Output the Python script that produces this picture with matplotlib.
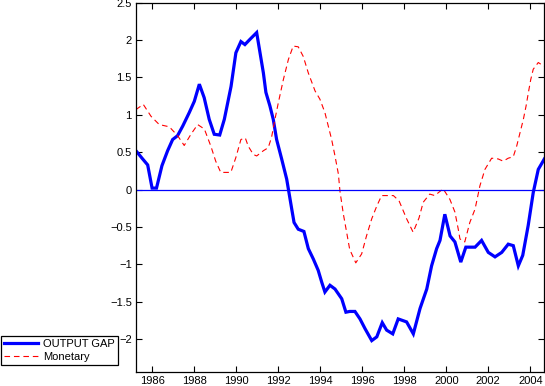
import matplotlib
matplotlib.use("Agg")
import matplotlib.pyplot as plt
from matplotlib.ticker import FuncFormatter

gap_years = [1985.22, 1985.54, 1985.78, 1985.99, 1986.2, 1986.46, 1986.73, 1986.97, 1987.2, 1987.45,
             1987.76, 1988.0, 1988.24, 1988.47, 1988.71, 1988.95, 1989.21, 1989.43, 1989.75, 1989.98,
             1990.22, 1990.41, 1990.65, 1990.97, 1991.13, 1991.29, 1991.41, 1991.6, 1991.76, 1991.92,
             1992.16, 1992.4, 1992.64, 1992.75, 1992.95, 1993.22, 1993.43, 1993.67, 1993.9, 1994.07,
             1994.22, 1994.46, 1994.7, 1995.02, 1995.22, 1995.4, 1995.65, 1995.89, 1996.13, 1996.45,
             1996.69, 1996.95, 1997.16, 1997.45, 1997.71, 1998.11, 1998.43, 1998.75, 1999.07, 1999.3,
             1999.54, 1999.7, 1999.93, 2000.18, 2000.41, 2000.69, 2000.93, 2001.37, 2001.68, 2002.0,
             2002.32, 2002.64, 2002.95, 2003.19, 2003.43, 2003.64, 2003.9, 2004.14, 2004.38, 2004.67]
gap_values = [0.52, 0.41, 0.33, 0.02, 0.02, 0.32, 0.52, 0.67, 0.72, 0.85,
              1.03, 1.18, 1.41, 1.23, 0.94, 0.74, 0.73, 0.94, 1.38, 1.83,
              1.98, 1.94, 2.01, 2.10, 1.83, 1.56, 1.30, 1.12, 0.94, 0.67,
              0.41, 0.14, -0.26, -0.44, -0.53, -0.56, -0.79, -0.93, -1.08, -1.24,
              -1.37, -1.28, -1.33, -1.46, -1.64, -1.63, -1.63, -1.73, -1.86, -2.02,
              -1.97, -1.78, -1.88, -1.93, -1.73, -1.77, -1.93, -1.59, -1.33, -1.02,
              -0.79, -0.68, -0.33, -0.62, -0.70, -0.97, -0.77, -0.77, -0.68, -0.84,
              -0.90, -0.84, -0.73, -0.75, -1.02, -0.88, -0.48, -0.04, 0.27, 0.41]

mon_years = [1985.22, 1985.57, 1985.94, 1986.33, 1986.81, 1987.21, 1987.52, 1987.84, 1988.16, 1988.48,
             1988.79, 1989.02, 1989.26, 1989.74, 1989.98, 1990.22, 1990.43, 1990.57, 1990.81, 1990.97,
             1991.29, 1991.52, 1991.68, 1991.84, 1992.0, 1992.24, 1992.48, 1992.71, 1992.95, 1993.19,
             1993.43, 1993.75, 1993.98, 1994.22, 1994.38, 1994.54, 1994.7, 1994.86, 1994.94, 1995.1,
             1995.26, 1995.4, 1995.69, 1995.97, 1996.2, 1996.45, 1996.69, 1996.92, 1997.48, 1997.75,
             1998.11, 1998.42, 1998.7, 1998.9, 1999.21, 1999.45, 1999.85, 2000.17, 2000.41, 2000.57,
             2000.65, 2000.88, 2001.12, 2001.37, 2001.6, 2001.84, 2002.16, 2002.47, 2002.71, 2002.95,
             2003.19, 2003.35, 2003.51, 2003.67, 2003.8, 2003.91, 2004.02, 2004.14, 2004.38, 2004.54,
             2004.67]
mon_values = [1.07, 1.14, 0.98, 0.87, 0.84, 0.72, 0.59, 0.74, 0.87, 0.81,
              0.58, 0.38, 0.23, 0.23, 0.43, 0.67, 0.69, 0.58, 0.47, 0.45,
              0.52, 0.56, 0.70, 0.94, 1.16, 1.47, 1.74, 1.92, 1.91, 1.78,
              1.56, 1.32, 1.21, 1.03, 0.85, 0.67, 0.45, 0.21, -0.03, -0.33,
              -0.58, -0.80, -0.98, -0.86, -0.62, -0.39, -0.22, -0.08, -0.08, -0.15,
              -0.39, -0.57, -0.38, -0.17, -0.06, -0.08, 0.01, -0.13, -0.30, -0.53,
              -0.66, -0.70, -0.44, -0.26, 0.05, 0.27, 0.42, 0.41, 0.38, 0.42,
              0.44, 0.58, 0.76, 0.94, 1.12, 1.30, 1.47, 1.61, 1.70, 1.67,
              1.65]

x_ticks = [1986, 1988, 1990, 1992, 1994, 1996, 1998, 2000, 2002, 2004]
y_ticks = [-2, -1.5, -1, -0.5, 0, 0.5, 1, 1.5, 2, 2.5]
series_labels = ["OUTPUT GAP", "Monetary"]

plt.rcParams['font.family'] = ['Liberation Sans', 'DejaVu Sans']

fig = plt.figure(figsize=(5.45, 3.86), dpi=100)
ax = fig.add_axes([136 / 545, 14 / 386, (544.3 - 136) / 545, (383.3 - 14) / 386])

l1, = ax.plot(gap_years, gap_values, color='#0000ff', lw=2.3, solid_joinstyle='miter')
l2, = ax.plot(mon_years, mon_values, color='#ff0000', lw=0.8, dashes=(5, 3.5))
ax.axhline(0, color='#0000ff', lw=0.9)

ax.set_xlim(1985.224, 2004.667)
ax.set_ylim(-2.44, 2.5)
ax.set_xticks(x_ticks)
ax.set_yticks(y_ticks)
ax.yaxis.set_major_formatter(FuncFormatter(lambda v, p: ('%g' % v).replace('-', '\u2212')))
ax.tick_params(direction='in', length=4, width=0.8, top=True, right=True, labelsize=8, pad=3)
for s in ax.spines.values():
    s.set_linewidth(0.9)

leg = fig.legend([l1, l2], series_labels, loc='lower left',
                 bbox_to_anchor=(1 / 545, 21 / 386), borderaxespad=0,
                 fontsize=8, fancybox=False, edgecolor='black', framealpha=1,
                 handlelength=3.0, handletextpad=0.45, labelspacing=0.25,
                 borderpad=0.3)
leg.get_frame().set_linewidth(0.9)

fig.savefig('out.png', dpi=100)
